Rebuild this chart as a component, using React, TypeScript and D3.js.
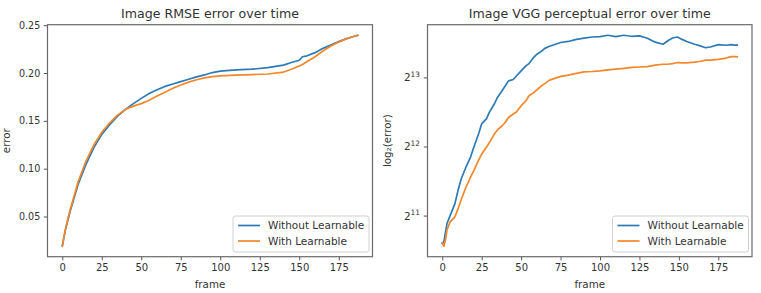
import React, { useEffect, useRef } from "react";
import * as d3 from "d3";

const rmseFrames = [0, 2, 5, 10, 15, 20, 25, 30, 35, 40, 45, 50, 55, 60, 65, 70, 75, 80, 85, 90, 95, 100, 110, 120, 130, 140, 145, 150, 152, 155, 160, 165, 170, 175, 180, 185, 187];
const rmseWithout = [0.019, 0.036, 0.0555, 0.0834, 0.1044, 0.122, 0.1358, 0.146, 0.155, 0.162, 0.168, 0.1735, 0.1785, 0.1825, 0.186, 0.1885, 0.191, 0.1935, 0.196, 0.198, 0.2005, 0.202, 0.2032, 0.204, 0.2056, 0.2083, 0.211, 0.2133, 0.217, 0.218, 0.2213, 0.2258, 0.2293, 0.2328, 0.236, 0.2384, 0.2394];
const rmseWith = [0.019, 0.037, 0.057, 0.086, 0.108, 0.125, 0.138, 0.148, 0.156, 0.162, 0.1654, 0.168, 0.1715, 0.176, 0.18, 0.184, 0.1875, 0.1905, 0.193, 0.195, 0.1963, 0.197, 0.1978, 0.1984, 0.199, 0.201, 0.204, 0.2073, 0.209, 0.212, 0.217, 0.223, 0.2283, 0.2325, 0.236, 0.2384, 0.2395];

const vggFrames = [0, 1, 2, 3, 5, 8, 10, 12, 15, 18, 20, 23, 25, 28, 30, 33, 35, 38, 40, 42, 45, 47, 50, 53, 55, 58, 60, 63, 65, 68, 70, 75, 80, 85, 90, 95, 100, 105, 110, 115, 120, 125, 130, 135, 140, 143, 146, 149, 152, 155, 160, 163, 167, 170, 175, 180, 183, 185, 187];
const vggWithout = [1552, 1574, 1722, 1891, 2048, 2304, 2638, 2957, 3327, 3692, 4068, 4640, 5149, 5405, 5793, 6273, 6700, 7181, 7538, 7913, 8023, 8307, 8750, 9197, 9410, 10016, 10340, 10660, 10960, 11190, 11316, 11625, 11747, 11994, 12136, 12286, 12331, 12503, 12331, 12503, 12374, 12417, 12136, 11666, 11425, 11828, 12161, 12286, 11994, 11747, 11425, 11268, 11036, 11113, 11386, 11308, 11386, 11316, 11316];
const vggWith = [1552, 1507, 1596, 1771, 1924, 2020, 2195, 2402, 2721, 3019, 3214, 3566, 3795, 4068, 4270, 4640, 4837, 5043, 5221, 5480, 5673, 5793, 6165, 6472, 6818, 7033, 7231, 7538, 7696, 7968, 8051, 8278, 8381, 8528, 8659, 8689, 8750, 8841, 8902, 8965, 9051, 9090, 9121, 9261, 9345, 9345, 9410, 9508, 9476, 9476, 9541, 9608, 9742, 9742, 9810, 9947, 10085, 10085, 10064];

const frameTicks = [0, 25, 50, 75, 100, 125, 150, 175];
const rmseTicks = [0.05, 0.1, 0.15, 0.2, 0.25];
const vggTickExponents = [11, 12, 13];
const seriesNames = ["Without Learnable", "With Learnable"];
const seriesColors = ["#2c7bb6", "#f5862a"];

const W = 761;
const H = 293;
const FONT = "DejaVu Sans";
const top = 24.7;
const bottom = 256.7;

function padded(lo: number, hi: number) {
  const p = (hi - lo) * 0.05;
  return [lo - p, hi + p];
}

function drawPanel(svg: any, o: any) {
  const g = svg.append("g");
  const x = d3.scaleLinear().domain(padded(0, d3.max(o.frames) as number)).range([o.x0, o.x1]);
  let y: any;
  if (o.log) {
    const all = o.series.flat().map((v: number) => Math.log2(v));
    const [a, b] = padded(d3.min(all) as number, d3.max(all) as number);
    y = d3.scaleLog().base(2).domain([2 ** a, 2 ** b]).range([bottom, top]);
  } else {
    const all = o.series.flat();
    y = d3.scaleLinear().domain(padded(d3.min(all) as number, d3.max(all) as number)).range([bottom, top]);
  }

  // lines
  o.series.forEach((vals: number[], i: number) => {
    const line = d3.line<number>().x((_, k) => x(o.frames[k])).y((d) => y(d));
    g.append("path")
      .attr("d", line(vals))
      .attr("fill", "none")
      .attr("stroke", seriesColors[i])
      .attr("stroke-width", 1.7)
      .attr("stroke-linejoin", "round")
      .attr("stroke-linecap", "square");
  });

  // x axis
  const xa = g.append("g")
    .attr("transform", `translate(0,${bottom})`)
    .call(d3.axisBottom(x).tickValues(frameTicks).tickSize(3.7).tickPadding(3.3));
  xa.select(".domain").remove();
  xa.selectAll("line").attr("stroke", "#555");
  xa.selectAll("text").attr("font-family", FONT).attr("font-size", 10).attr("fill", "#333");

  // y axis
  const ya = g.append("g")
    .attr("transform", `translate(${o.x0},0)`)
    .call(
      d3.axisLeft(y)
        .tickValues(o.log ? vggTickExponents.map((e) => 2 ** e) : rmseTicks)
        .tickSize(3.7)
        .tickPadding(3.5)
        .tickFormat((d: any) => (o.log ? "" : d3.format(".2f")(d)))
    );
  ya.select(".domain").remove();
  ya.selectAll("line").attr("stroke", "#555");
  ya.selectAll("text").attr("font-family", FONT).attr("font-size", 9.6).attr("fill", "#333");
  if (o.log) {
    vggTickExponents.forEach((e) => {
      const t = g.append("text")
        .attr("x", o.x0 - 7.5)
        .attr("y", y(2 ** e) + 4)
        .attr("text-anchor", "end")
        .attr("font-family", FONT)
        .attr("font-size", 10.5)
        .attr("fill", "#333");
      t.append("tspan").text("2");
      t.append("tspan").attr("dy", -4.5).attr("font-size", 7.4).text(String(e));
    });
  }

  // frame
  g.append("rect")
    .attr("x", o.x0)
    .attr("y", top)
    .attr("width", o.x1 - o.x0)
    .attr("height", bottom - top)
    .attr("fill", "none")
    .attr("stroke", "#6a6a6a")
    .attr("stroke-width", 1.2);

  // title & labels
  g.append("text")
    .attr("x", (o.x0 + o.x1) / 2)
    .attr("y", 17.5)
    .attr("text-anchor", "middle")
    .attr("font-family", FONT)
    .attr("font-size", 12.6)
    .attr("fill", "#333")
    .text(o.title);
  g.append("text")
    .attr("x", (o.x0 + o.x1) / 2)
    .attr("y", 288)
    .attr("text-anchor", "middle")
    .attr("font-family", FONT)
    .attr("font-size", 10.3)
    .attr("fill", "#333")
    .text("frame");
  g.append("text")
    .attr("transform", `translate(${o.ylabelX},${(top + bottom) / 2}) rotate(-90)`)
    .attr("text-anchor", "middle")
    .attr("font-family", FONT)
    .attr("font-size", 10.3)
    .attr("fill", "#333")
    .text(o.ylabel);

  // legend
  const bw = 136;
  const bh = 36;
  const bx = o.x1 - 3.5 - bw;
  const by = bottom - 4.7 - bh;
  const lg = g.append("g");
  lg.append("rect")
    .attr("x", bx)
    .attr("y", by)
    .attr("width", bw)
    .attr("height", bh)
    .attr("rx", 2.5)
    .attr("fill", "white")
    .attr("fill-opacity", 0.8)
    .attr("stroke", "#d0d0d0");
  seriesNames.forEach((name, i) => {
    const ly = by + 9.5 + i * 15.5;
    lg.append("line")
      .attr("x1", bx + 5)
      .attr("x2", bx + 27)
      .attr("y1", ly)
      .attr("y2", ly)
      .attr("stroke", seriesColors[i])
      .attr("stroke-width", 1.7);
    lg.append("text")
      .attr("x", bx + 35)
      .attr("y", ly + 3.7)
      .attr("font-family", FONT)
      .attr("font-size", 10.5)
      .attr("fill", "#333")
      .text(name);
  });
}

export default function App() {
  const ref = useRef<SVGSVGElement>(null);

  useEffect(() => {
    const svg = d3.select(ref.current);
    svg.selectAll("*").remove();
    drawPanel(svg, {
      x0: 47.5,
      x1: 372.5,
      frames: rmseFrames,
      series: [rmseWithout, rmseWith],
      log: false,
      title: "Image RMSE error over time",
      ylabel: "error",
      ylabelX: 10,
    });
    drawPanel(svg, {
      x0: 427.5,
      x1: 752,
      frames: vggFrames,
      series: [vggWithout, vggWith],
      log: true,
      title: "Image VGG perceptual error over time",
      ylabel: "log\u2082(error)",
      ylabelX: 391,
    });
  }, []);

  return (
    <svg
      ref={ref}
      width={W}
      height={H}
      style={{ position: "absolute", left: 0, top: 0, background: "white" }}
    />
  );
}
